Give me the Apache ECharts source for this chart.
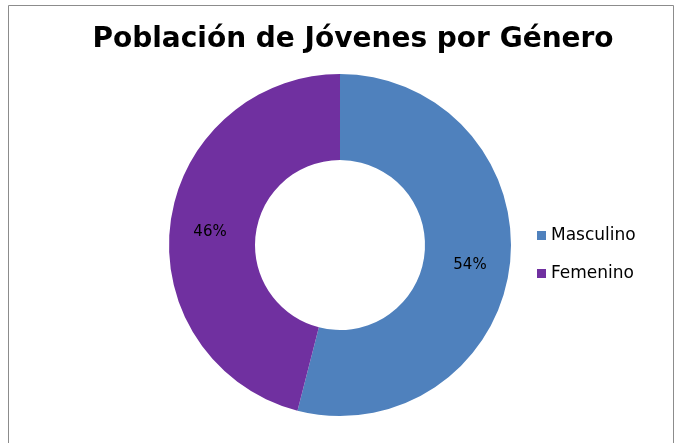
<!DOCTYPE html>
<html>
<head>
<meta charset="utf-8">
<script src="https://cdn.jsdelivr.net/npm/echarts@6/dist/echarts.min.js"></script>
<style>
  html, body { margin: 0; padding: 0; background: #fff; }
  #chart { width: 680px; height: 443px; }
</style>
</head>
<body>
<div id="chart"></div>
<script>
const categories = ["Masculino", "Femenino"];
const values = [54, 46];
const colors = ["#4F81BD", "#7030A0"];

const chart = echarts.init(document.getElementById("chart"));

chart.setOption({
  animation: false,
  color: colors,
  title: {
    text: "Población de Jóvenes por Género",
    left: 348,
    textAlign: "center",
    top: 21,
    textStyle: {
      fontFamily: "DejaVu Sans",
      fontWeight: "bold",
      fontSize: 28,
      color: "#000",
    },
  },
  graphic: [
    {
      type: "rect",
      shape: { x: 8.5, y: 5.5, width: 665, height: 460 },
      style: { fill: null, stroke: "#8c8c8c", lineWidth: 1 },
      silent: true,
    },
  ],
  legend: {
    orient: "vertical",
    left: 532,
    top: 222,
    icon: "rect",
    itemWidth: 9,
    itemHeight: 9,
    itemGap: 21,
    textStyle: {
      fontFamily: "DejaVu Sans",
      fontSize: 17,
      color: "#000",
    },
    data: categories,
  },
  series: [
    {
      type: "pie",
      center: [340, 245],
      radius: [85, 171],
      startAngle: 90,
      clockwise: true,
      label: {
        position: "inside",
        formatter: "{d}%",
        fontFamily: "DejaVu Sans",
        fontSize: 15,
        color: "#000",
        offset: [0, 4],
      },
      labelLine: { show: false },
      emphasis: { disabled: true },
      itemStyle: { borderWidth: 0 },
      data: categories.map((name, i) => ({ name, value: values[i] })),
    },
  ],
});
</script>
</body>
</html>
